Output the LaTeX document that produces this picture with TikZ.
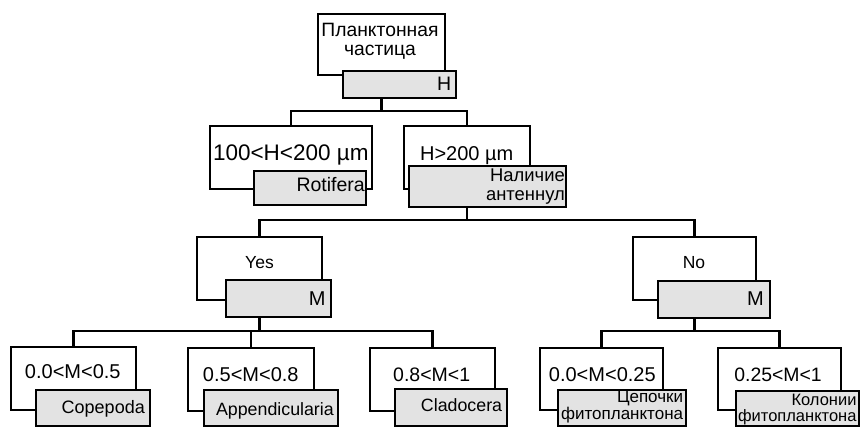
\documentclass[tikz,border=0pt]{standalone}
\usepackage{fontspec}
\setmainfont{Liberation Sans}
\usetikzlibrary{positioning}
\definecolor{leafgrey}{HTML}{E3E3E3}
\newcommand{\txtsize}[2]{\fontsize{#1}{#2}\selectfont}

\begin{document}
\begin{tikzpicture}[x=1pt, y=-1pt,
      cond/.style={draw, line width=2.4pt, fill=white, inner sep=0pt},
      leaf/.style={draw, line width=2.4pt, fill=leafgrey, inner sep=0pt},
      lbl/.style={inner sep=0pt, anchor=base},
      leaflbl/.style={inner sep=0pt, anchor=base east, align=right},
      link/.style={line width=2.4pt}
    ]
      \useasboundingbox (0,0) rectangle (861,429);
      % root
      \node[cond, minimum width=127pt, minimum height=61pt] (root) at (381.5,44.5) {};
      \node[leaf, minimum width=113pt, minimum height=27pt] (rootg) at (399.5,84.5) {};
      \node[lbl, align=center, font=\txtsize{19.3}{18.3}] (roottxt) at (380,55) {Планктонная\\частица};
      \node[leaflbl, font=\txtsize{19.5}{19.5}] (roottag) at (451.5,90) {H};
      % size split
      \node[cond, minimum width=162pt, minimum height=63pt] (small) at (291,157.5) {};
      \node[leaf, minimum width=112pt, minimum height=34pt] (rotif) at (310,188) {};
      \node[lbl, font=\txtsize{22.5}{22.5}] (smalltxt) at (290.8,160) {100<H<200 µm};
      \node[leaflbl, font=\txtsize{19.5}{19.5}] (rotiftxt) at (365,191.7) {Rotifera};
      \node[cond, minimum width=126pt, minimum height=63pt] (large) at (467,157.5) {};
      \node[leaf, minimum width=157pt, minimum height=41pt] (antg) at (487.5,186.5) {};
      \node[lbl, font=\txtsize{20}{20}] (largetxt) at (466.7,160) {H>200 µm};
      \node[leaflbl, font=\txtsize{18.4}{18.3}] (anttxt) at (565,200) {Наличие\\антеннул};
      % antennae split
      \node[cond, minimum width=125pt, minimum height=63pt] (yes) at (259.5,268.5) {};
      \node[leaf, minimum width=105pt, minimum height=37pt] (yesg) at (278.5,298.5) {};
      \node[lbl, font=\txtsize{17.5}{17.5}] (yestxt) at (259.5,268.3) {Yes};
      \node[leaflbl, font=\txtsize{20}{20}] (yestag) at (325.7,305) {M};
      \node[cond, minimum width=123pt, minimum height=63pt] (no) at (694.5,268.5) {};
      \node[leaf, minimum width=112pt, minimum height=37pt] (nog) at (714,299.5) {};
      \node[lbl, font=\txtsize{17.5}{17.5}] (notxt) at (694,268) {No};
      \node[leaflbl, font=\txtsize{20}{20}] (notag) at (764,305) {M};
      % mass ranges, antennae present
      \node[cond, minimum width=125pt, minimum height=63pt] (m1) at (73.5,378.5) {};
      \node[leaf, minimum width=114pt, minimum height=36pt] (cope) at (93,408) {};
      \node[lbl, font=\txtsize{20}{20}] (m1txt) at (72.8,378.3) {0.0<M<0.5};
      \node[leaflbl, font=\txtsize{18}{18}] (copetxt) at (145,413.3) {Copepoda};
      \node[cond, minimum width=126pt, minimum height=63pt] (m2) at (251,379.5) {};
      \node[leaf, minimum width=134pt, minimum height=36pt] (appe) at (271,408) {};
      \node[lbl, font=\txtsize{20}{20}] (m2txt) at (250.8,381.7) {0.5<M<0.8};
      \node[leaflbl, font=\txtsize{17.8}{17.8}] (appetxt) at (334,415) {Appendicularia};
      \node[cond, minimum width=125pt, minimum height=63pt] (m3) at (432.5,379.5) {};
      \node[leaf, minimum width=112pt, minimum height=37pt] (clad) at (451,407.5) {};
      \node[lbl, font=\txtsize{19.5}{19.5}] (m3txt) at (431.7,381.7) {0.8<M<1};
      \node[leaflbl, font=\txtsize{17.8}{17.8}] (cladtxt) at (502.3,411) {Cladocera};
      % mass ranges, no antennae
      \node[cond, minimum width=123pt, minimum height=62pt] (m4) at (601.5,379) {};
      \node[leaf, minimum width=128pt, minimum height=36pt] (chain) at (622,408) {};
      \node[lbl, font=\txtsize{20}{20}] (m4txt) at (602.3,381.7) {0.0<M<0.25};
      \node[leaflbl, font=\txtsize{17}{16.7}] (chaintxt) at (683.3,419.3) {Цепочки\\фитопланктона};
      \node[cond, minimum width=123pt, minimum height=62pt] (m5) at (779.5,379) {};
      \node[leaf, minimum width=123pt, minimum height=35pt] (colon) at (797.5,408.5) {};
      \node[lbl, font=\txtsize{19.4}{19.4}] (m5txt) at (778,381.7) {0.25<M<1};
      \node[leaflbl, font=\txtsize{16.5}{16.7}] (colontxt) at (856.7,421.7) {Колонии\\фитопланктона};
      % connectors
      \coordinate (bus0) at (381.5,111);
      \coordinate (bus1) at (467,220);
      \coordinate (bus2) at (259.5,331);
      \coordinate (bus3) at (694.5,331);
      \draw[link] (root |- rootg.south) -- (bus0);
      \draw[link] (small.north) |- (bus0) -| (large.north);
      \draw[link] (large |- antg.south) -- (bus1);
      \draw[link] (yes.north) |- (bus1) -| (no.north);
      \draw[link] (yes |- yesg.south) -- (bus2);
      \draw[link] (m1.north) |- (bus2) -| (m3.north);
      \draw[link] (m2.north) -- (m2.north |- bus2);
      \draw[link] (no |- nog.south) -- (bus3);
      \draw[link] (m4.north) |- (bus3) -| (m5.north);
    \end{tikzpicture}
\end{document}
